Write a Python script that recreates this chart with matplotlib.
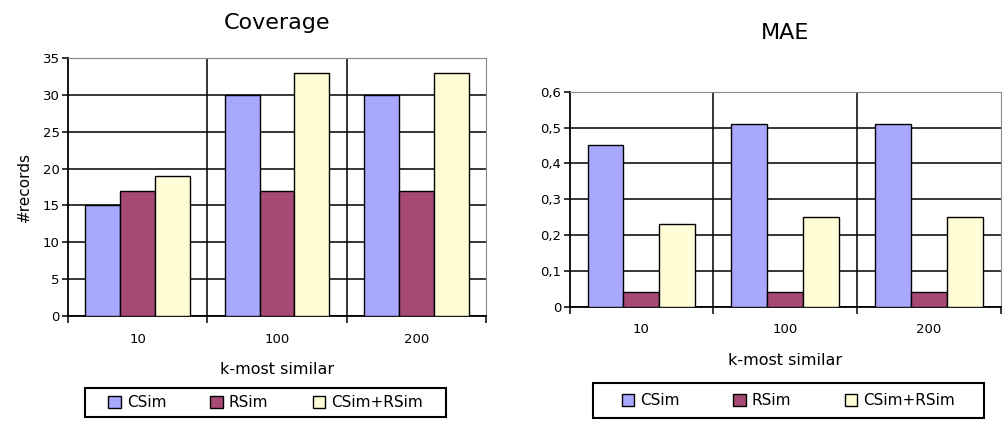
import matplotlib
matplotlib.use("Agg")
import matplotlib.pyplot as plt
import numpy as np
from matplotlib.patches import Patch, Rectangle
from matplotlib.ticker import FuncFormatter, FixedLocator

# k-most similar groups
k_labels = ["10", "100", "200"]
series_names = ["CSim", "RSim", "CSim+RSim"]
series_colors = ["#A8A8FF", "#A64A75", "#FFFDD5"]

# coverage (#records)
cov_csim = [15, 30, 30]
cov_rsim = [17, 17, 17]
cov_both = [19, 33, 33]

# mean absolute error
mae_csim = [0.45, 0.51, 0.51]
mae_rsim = [0.04, 0.04, 0.04]
mae_both = [0.23, 0.25, 0.25]

plt.rcParams["font.family"] = ["DejaVu Sans"]

fig = plt.figure(figsize=(10.02, 4.23), dpi=100)
ax1 = fig.add_axes([0.0679, 0.2530, 0.4171, 0.6099])
ax2 = fig.add_axes([0.5684, 0.2749, 0.4306, 0.5083])


def draw_panel(ax, data, ymax, ystep, title, fmt, title_pad):
    x = np.arange(len(k_labels))
    w = 0.25
    for i, (vals, col) in enumerate(zip(data, series_colors)):
        ax.bar(x + (i - 1) * w, vals, w, color=col, edgecolor="black",
               linewidth=1.0, zorder=3)
    ax.set_xlim(-0.5, len(k_labels) - 0.5)
    ax.set_ylim(0, ymax)
    ax.set_yticks(np.arange(0, ymax + ystep / 2, ystep))
    ax.yaxis.set_major_formatter(FuncFormatter(fmt))
    ax.yaxis.grid(True, color="black", linewidth=1.1, zorder=0)
    # group separators
    for b in np.arange(0.5, len(k_labels) - 0.5, 1.0):
        ax.axvline(b, color="black", linewidth=1.1, zorder=1)
    ax.xaxis.set_major_locator(FixedLocator(np.arange(-0.5, len(k_labels), 1.0)))
    ax.xaxis.set_major_formatter(FuncFormatter(lambda v, p: ""))
    ax.xaxis.set_minor_locator(FixedLocator(x))
    ax.set_xticklabels(k_labels, minor=True)
    ax.tick_params(axis="x", which="major", direction="out", length=5, width=1.1)
    ax.tick_params(axis="x", which="minor", length=0, pad=12, labelsize=9.5)
    ax.tick_params(axis="y", direction="out", length=4, width=1.1, pad=2,
                   labelsize=9.5)
    for s in ["left", "bottom"]:
        ax.spines[s].set_linewidth(1.3)
        ax.spines[s].set_color("black")
    for s in ["top", "right"]:
        ax.spines[s].set_linewidth(0.8)
        ax.spines[s].set_color("#888888")
    ax.set_xlabel("k-most similar", fontsize=11.5, labelpad=12)
    ax.set_title(title, fontsize=16, pad=title_pad)


draw_panel(ax1, [cov_csim, cov_rsim, cov_both], 35, 5, "Coverage",
           lambda v, p: f"{v:g}", 21)
ax1.set_ylabel("#records", fontsize=11, labelpad=8)

draw_panel(ax2, [mae_csim, mae_rsim, mae_both], 0.6, 0.1, "MAE",
           lambda v, p: "0" if abs(v) < 1e-9 else f"{v:.1f}".replace(".", ","), 38)

handles = [Patch(facecolor=c, edgecolor="black", linewidth=1.0) for c in series_colors]

W, H = 1002, 423


def legend_box(x0, y0, x1, y1, colspacing):
    # framed legend below a panel; box given in pixels from the top-left
    fig.legend(handles, series_names, loc="center", ncol=3,
               bbox_to_anchor=((x0 + x1) / 2 / W, 1 - (y0 + y1) / 2 / H),
               fontsize=11, handlelength=0.8, handleheight=0.8,
               handletextpad=0.4, columnspacing=colspacing, borderpad=0.5,
               frameon=False)
    fig.patches.append(Rectangle((x0 / W, 1 - y1 / H), (x1 - x0) / W,
                                 (y1 - y0) / H, transform=fig.transFigure,
                                 fill=False, edgecolor="black", linewidth=1.5))


legend_box(85, 388, 446, 417, 2.9)
legend_box(593, 383, 984, 418, 3.5)

fig.savefig("out.png", dpi=100)
